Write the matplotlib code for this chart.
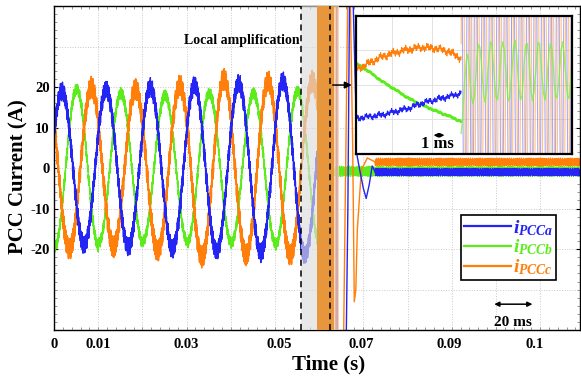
import numpy as np
import matplotlib
matplotlib.use("Agg")
import matplotlib.pyplot as plt

plt.rcParams["font.family"] = "Liberation Serif"
plt.rcParams["font.weight"] = "bold"
plt.rcParams["mathtext.fontset"] = "custom"
plt.rcParams["mathtext.it"] = "Liberation Serif:italic:bold"
plt.rcParams["mathtext.rm"] = "Liberation Serif:bold"

BLUE = "#2424f4"
GREEN = "#5cec1c"
ORANGE = "#ff7f0a"

# ---- values ----
f_grid = 50.0
# peak current (A) of each 20 ms cycle before the event
amp_a = [19.0, 19.5, 20.0, 20.5, 21.0, 21.5]
amp_b = [19.5, 18.5, 18.0, 18.5, 18.5, 19.0]
amp_c = [20.0, 19.5, 20.5, 22.0, 21.5, 21.5]
phase_a = 0.44                     # rad at t = 0, b and c lag/lead 120 deg
ripple_pre = [2.4, 1.5, 2.9]       # half width of the noisy band (A)
t_hidden = 0.1192                  # traces disappear under the orange band

# transient right after the band (time s, current A)
tr_a_t = [0.1269, 0.1276, 0.1279, 0.1283, 0.1322, 0.1330, 0.1338, 0.1352,
          0.1372, 0.1382, 0.1400, 0.1413, 0.1427, 0.1440, 0.1454]
tr_a = [-45, -45, 45, -45, -45, -10, 45, 45, 3, 0, -5, -7.5, -4, 0.5, -1.0]
tr_c_t = [0.1269, 0.1310, 0.1330, 0.1340, 0.1352, 0.1359, 0.1366, 0.1373,
          0.1391, 0.1418, 0.1436, 0.1454]
tr_c = [-45, -45, 45, 45, 5, -33, -30, -15, -0.5, 2.5, 2.0, 1.5]

# steady state after the event
post_level = [-1.0, -0.8, 1.5]
post_ripple = [1.0, 1.3, 1.0]
t_green_post = 0.1269
t_post = 0.1454
t_end = 0.238

# event markers
t_dash = [0.1117, 0.1249]
grey_band = (0.1117, 0.1192)
orange_band = (0.1192, 0.1269)
light_band = (0.1269, 0.1291)

# axis ticks
xtick_pos = [0, 0.0199, 0.0599, 0.1020, 0.1390, 0.1788, 0.2175]
xtick_lab = ["0", "0.01", "0.03", "0.05", "0.07", "0.09", "0.1"]
ytick_pos = [-20, -10, 0, 10, 20]
ytick_lab = ["-20", "-10", "0", "10", "20"]
xgrid = np.arange(0, 0.24, 0.02)
ygrid = [-30, -20, -10, 0, 10, 20, 30]

# local amplification (time ms, current A)
ins_t = [0, 0.89, 1.78, 2.67, 3.56, 4.45, 5.35, 6.24, 7.08]
ins_a = [-9.7, -9.2, -8.7, -7.7, -6.8, -5.3, -4.3, -3.4, -2.4]
ins_b = [6.3, 3.9, 1.0, -1.4, -3.9, -5.8, -7.5, -9.0, -10.6]
ins_c = [4.3, 6.3, 8.2, 9.4, 10.3, 10.9, 10.6, 9.7, 7.7]
ins_ripple = [1.2, 0.4, 1.5]
# oscillation after the event in the zoom: (centre, amplitude, period ms)
osc_b = (4.0, 8.0, 0.8)
osc_ac = (0.0, 60.0, 0.5)
ins_end = 14.5


def ripple(t, a, k):
    # switching ripple, fixed pattern
    return a * (0.45 * np.sin(2 * np.pi * 9730 * t + k)
                + 0.3 * np.sin(2 * np.pi * 3170 * t + 2.1 * k)
                + 0.25 * np.sin(2 * np.pi * 1130 * t + 0.7 * k))


fig = plt.figure(figsize=(5.81, 3.79), dpi=100)
ax = fig.add_axes([0.093, 0.129, 0.905, 0.855])

# before the event
t = np.linspace(0, t_hidden, 30000)
cyc = np.minimum((t * f_grid).astype(int), len(amp_a) - 1)
w = 2 * np.pi * f_grid
ia = np.array(amp_a)[cyc] * np.sin(w * t + phase_a) + ripple(t, ripple_pre[0], 0.3)
ib = np.array(amp_b)[cyc] * np.sin(w * t + phase_a - 2 * np.pi / 3) + ripple(t, ripple_pre[1], 1.7)
ic = np.array(amp_c)[cyc] * np.sin(w * t + phase_a + 2 * np.pi / 3) + ripple(t, ripple_pre[2], 2.9)
ax.plot(t, ib, color=GREEN, lw=0.9, label=r"$i_{PCCb}$")
ax.plot(t, ic, color=ORANGE, lw=1.0, label=r"$i_{PCCc}$")
ax.plot(t, ia, color=BLUE, lw=1.0, label=r"$i_{PCCa}$")

# after the event
tg = np.linspace(t_green_post, t_end, 20000)
ax.plot(tg, post_level[1] + ripple(tg, post_ripple[1], 1.1), color=GREEN, lw=0.9)
ax.plot(tr_c_t, tr_c, color=ORANGE, lw=1.0)
ax.plot(tr_a_t, tr_a, color=BLUE, lw=1.0)
tp = np.linspace(t_post, t_end, 18000)
ax.plot(tp, post_level[2] + ripple(tp, post_ripple[2], 2.2), color=ORANGE, lw=0.9)
ax.plot(tp, post_level[0] + ripple(tp, post_ripple[0], 0.6), color=BLUE, lw=0.9)

ax.axvspan(*grey_band, color="#dcdcdc", alpha=0.65, lw=0, zorder=3)
ax.axvspan(*orange_band, color="#e8963c", lw=0, zorder=3)
ax.axvspan(*light_band, color="#ffcc99", alpha=0.8, lw=0, zorder=3)
for xd in t_dash:
    ax.axvline(xd, color="black", lw=1.1, ls=(0, (4, 3)), zorder=4)

for xg in xgrid:
    ax.axvline(xg, color="#c8c8c8", lw=0.7, ls=":", zorder=0)
for yg in ygrid:
    ax.axhline(yg, color="#c8c8c8", lw=0.7, ls=":", zorder=0)

ax.set_xlim(0, t_end)
ax.set_ylim(-40, 40)
ax.set_xticks(xtick_pos, xtick_lab)
ax.set_yticks(ytick_pos, ytick_lab)
ax.set_xticks(np.arange(0, 0.24, 0.004), minor=True)
ax.set_yticks(np.arange(-40, 41, 2), minor=True)
ax.tick_params(axis="both", which="both", direction="in", top=True, right=True, labelsize=10.5)
ax.tick_params(axis="x", which="major", length=0, pad=6)
ax.tick_params(axis="y", which="major", length=3, pad=3)
ax.tick_params(which="minor", length=2, color="#888888")
for sp in ax.spines.values():
    sp.set_linewidth(1.0)

ax.set_xlabel("Time (s)", fontsize=15, fontweight="bold")
ax.xaxis.set_label_coords(0.522, -0.075)
ax.set_ylabel("PCC Current (A)", fontsize=15, fontweight="bold")
ax.yaxis.set_label_coords(-0.048, 0.474)

ax.text(0.1112, 31.6, "Local amplification", ha="right", va="center", fontsize=10, fontweight="bold")
ax.annotate("", xy=(0.1360, 20.5), xytext=(0.1249, 20.5),
            arrowprops=dict(arrowstyle="-|>", color="black", lw=1.1, mutation_scale=10), zorder=5)
ax.annotate("", xy=(0.2178, -33.6), xytext=(0.1980, -33.6),
            arrowprops=dict(arrowstyle="<|-|>", color="black", lw=1.1, mutation_scale=7))
ax.text(0.2075, -38.0, "20 ms", ha="center", va="center", fontsize=11, fontweight="bold")

h, l = ax.get_legend_handles_labels()
order = [2, 0, 1]
leg = ax.legend([h[i] for i in order], [l[i] for i in order], loc="upper left",
                bbox_to_anchor=(0.774, 0.355), bbox_transform=ax.transAxes,
                fontsize=14, labelcolor="linecolor", handlelength=2.4, handletextpad=0.1,
                borderpad=0.15, labelspacing=0.0, borderaxespad=0, fancybox=False,
                framealpha=1, edgecolor="black")
leg.get_frame().set_linewidth(1.2)
for ln in leg.get_lines():
    ln.set_linewidth(1.6)

# zoomed view
axi = fig.add_axes([0.612, 0.594, 0.372, 0.364])
ti = np.linspace(0, ins_t[-1], 1500)
axi.plot(ti, np.interp(ti, ins_t, ins_b) + ripple(ti / 1000, ins_ripple[1], 0.5), color=GREEN, lw=1.6)
axi.plot(ti, np.interp(ti, ins_t, ins_c) + ripple(ti / 1000 * 1.1, ins_ripple[2], 1.5), color=ORANGE, lw=0.7)
axi.plot(ti, np.interp(ti, ins_t, ins_a) + ripple(ti / 1000 * 1.1, ins_ripple[0], 2.5), color=BLUE, lw=0.7)

tf = np.linspace(ins_t[-1], ins_end, 6000)
s = tf - ins_t[-1]
gb = osc_b[0] - osc_b[1] * np.cos(2 * np.pi * s / osc_b[2]) - 10 * np.exp(-s / 0.4)
axi.plot(tf, osc_ac[1] * np.sin(2 * np.pi * s / osc_ac[2] + 0.2), color="#ffb366", lw=0.8, alpha=0.8)
axi.plot(tf, osc_ac[1] * np.sin(2 * np.pi * s / osc_ac[2] + 0.2 + np.pi / 2), color="#7a6ee6", lw=0.8, alpha=0.6)
axi.plot(tf, gb + ripple(tf / 1000, 1.0, 0.9), color="#7cf04a", lw=1.0, alpha=0.8)

for xg in [2.43, 5.10, 7.77, 10.44, 13.11]:
    axi.axvline(xg, color="#dddddd", lw=0.6, zorder=0)
for yg in [-10, 0, 10]:
    axi.axhline(yg, color="#dddddd", lw=0.6, zorder=0)
axi.set_xlim(0, ins_end)
axi.set_ylim(-20, 20)
axi.set_xticks([])
axi.set_yticks([])
for sp in axi.spines.values():
    sp.set_linewidth(1.6)
axi.annotate("", xy=(6.15, -14.6), xytext=(5.05, -14.6),
             arrowprops=dict(arrowstyle="<|-|>", color="black", lw=1.0, mutation_scale=6))
axi.text(5.5, -17.0, "1 ms", ha="center", va="center", fontsize=12, fontweight="bold")

fig.savefig("out.png", dpi=100)
